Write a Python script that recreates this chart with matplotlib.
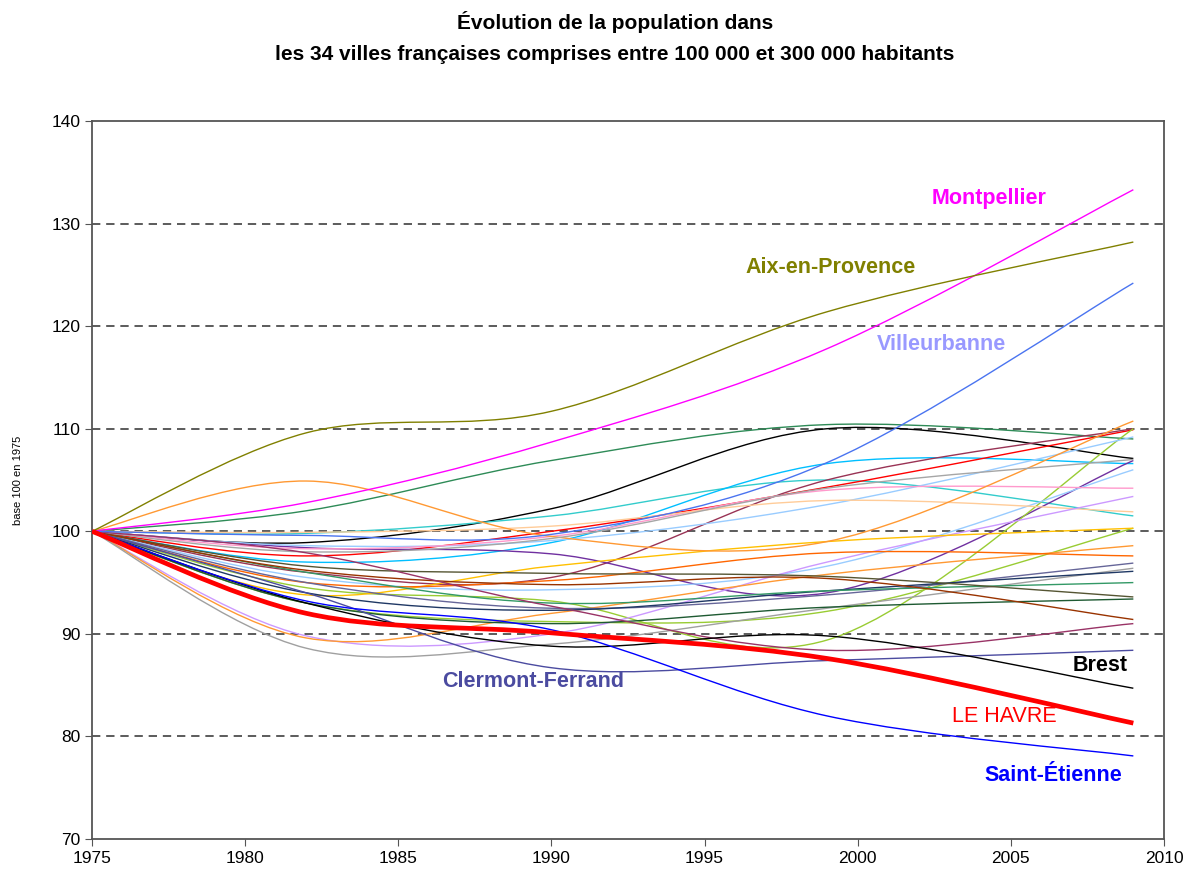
import matplotlib
matplotlib.use("Agg")
import matplotlib.pyplot as plt
from matplotlib.path import Path
from matplotlib.patches import PathPatch

plt.rcParams['font.family'] = ['Liberation Sans', 'DejaVu Sans']

# années de recensement (base 100 en 1975)
annees = [1975, 1982, 1990, 1999, 2009]

# villes nommées sur le graphique
montpellier = [100, 102.8, 108.7, 117.8, 133.3]
aix = [100, 109.6, 111.7, 121.4, 128.2]
villeurbanne = [100, 99.6, 99.7, 106.7, 124.2]
clermont = [100, 94.0, 86.7, 87.4, 88.4]
brest = [100, 93.0, 88.8, 89.8, 84.7]
le_havre = [100, 92.0, 90.1, 87.6, 81.3]
saint_etienne = [100, 93.2, 90.4, 82.0, 78.1]

# les autres villes (non nommées)
autres_couleurs = [
    '#2E8B57', '#000000', '#33CCCC', '#00BFFF', '#FF0000', '#993355',
    '#7030A0', '#99CC33', '#99CC33', '#99CCFF', '#99CCFF', '#FF99CC',
    '#FFCC99', '#CC99FF', '#FFC000', '#FF9933', '#FF9933', '#FF6600',
    '#666699', '#A0A0A0', '#1F3864', '#339966', '#555533', '#1E5A32',
    '#A6A6A6', '#993300', '#993366',
]
autres_valeurs = [
    [100, 102.0, 106.9, 110.4, 109.0],
    [100, 98.9, 102.2, 110.0, 107.1],
    [100, 99.8, 101.5, 105.0, 101.5],
    [100, 97.0, 98.9, 106.6, 106.6],
    [100, 97.6, 100.0, 104.3, 109.9],
    [100, 96.0, 95.5, 105.0, 110.0],
    [100, 98.4, 97.8, 94.0, 106.9],
    [100, 94.5, 93.2, 89.4, 110.0],
    [100, 93.0, 91.2, 92.2, 100.3],
    [100, 98.6, 99.1, 102.6, 109.2],
    [100, 95.5, 94.3, 96.6, 106.0],
    [100, 98.3, 99.5, 104.0, 104.2],
    [100, 99.9, 100.5, 103.0, 101.9],
    [100, 89.8, 90.0, 97.0, 103.4],
    [100, 93.8, 96.6, 99.0, 100.3],
    [100, 104.9, 99.5, 99.0, 110.75],
    [100, 89.6, 92.0, 95.8, 98.6],
    [100, 95.0, 95.2, 97.9, 97.6],
    [100, 95.0, 92.5, 93.8, 96.9],
    [100, 88.6, 89.0, 92.5, 96.4],
    [100, 94.0, 92.3, 94.2, 96.1],
    [100, 96.0, 93.0, 94.2, 95.0],
    [100, 96.6, 95.9, 95.6, 93.6],
    [100, 93.0, 91.0, 92.6, 93.4],
    [100, 98.0, 99.3, 104.2, 107.0],
    [100, 96.2, 94.8, 95.4, 91.4],
    [100, 97.9, 92.7, 88.4, 91.0],
]


def courbe_lissee(ax, x, y, color, lw, z=2):
    # lissage type Excel : courbes de Bézier à partir des points
    pts = list(zip(x, y))
    n = len(pts)
    verts = [pts[0]]
    codes = [Path.MOVETO]
    for i in range(n - 1):
        p0 = pts[i - 1] if i > 0 else pts[i]
        p1 = pts[i]
        p2 = pts[i + 1]
        p3 = pts[i + 2] if i + 2 < n else pts[i + 1]
        c1 = (p1[0] + (p2[0] - p0[0]) / 6, p1[1] + (p2[1] - p0[1]) / 6)
        c2 = (p2[0] - (p3[0] - p1[0]) / 6, p2[1] - (p3[1] - p1[1]) / 6)
        verts += [c1, c2, p2]
        codes += [Path.CURVE4] * 3
    ax.add_patch(PathPatch(Path(verts, codes), facecolor='none',
                           edgecolor=color, lw=lw, zorder=z))


fig = plt.figure(figsize=(11.87, 8.76), dpi=100)
ax = fig.add_axes([0.0775, 0.0422, 0.9031, 0.8197])

for couleur, valeurs in zip(autres_couleurs, autres_valeurs):
    courbe_lissee(ax, annees, valeurs, couleur, 1.0)

courbe_lissee(ax, annees, montpellier, '#FF00FF', 1.0, 3)
courbe_lissee(ax, annees, aix, '#808000', 1.0, 3)
courbe_lissee(ax, annees, villeurbanne, '#4A74F0', 1.0, 3)
courbe_lissee(ax, annees, clermont, '#4B4BA0', 1.0, 3)
courbe_lissee(ax, annees, brest, '#000000', 1.0, 3)
courbe_lissee(ax, annees, saint_etienne, '#0000FF', 1.0, 3)
courbe_lissee(ax, annees, le_havre, '#FF0000', 3.4, 4)

ax.set_xlim(1975, 2010)
ax.set_ylim(70, 140)
ax.set_xticks(range(1975, 2011, 5))
ax.set_yticks(range(70, 141, 10))
ax.tick_params(labelsize=12.5, direction='out', length=5, color='#555555')
for y in range(80, 140, 10):
    ax.axhline(y, color='#404040', lw=1.2, ls=(0, (5, 3.5)), zorder=1)
for s in ax.spines.values():
    s.set_color('#555555')
    s.set_linewidth(1.3)

ax.set_ylabel('base 100 en 1975', fontsize=8, labelpad=20)

fig.text(0.518, 1 - 22 / 876, 'Évolution de la population dans',
         ha='center', va='center', fontsize=15, fontweight='bold')
fig.text(0.518, 1 - 55 / 876,
         'les 34 villes françaises comprises entre 100 000 et 300 000 habitants',
         ha='center', va='center', fontsize=15, fontweight='bold')

style = dict(fontsize=15.5, fontweight='bold', ha='center', va='center')
ax.text(2004.3, 132.4, 'Montpellier', color='#FF00FF', **style)
ax.text(1999.1, 125.7, 'Aix-en-Provence', color='#808000', **style)
ax.text(2002.75, 118.2, 'Villeurbanne', color='#9999FF', **style)
ax.text(2007.9, 86.9, 'Brest', color='black', **style)
ax.text(1989.4, 85.4, 'Clermont-Ferrand', color='#4B4BA0', **style)
ax.text(2006.4, 76.2, 'Saint-Étienne', color='#0000FF', **style)
ax.text(2004.8, 81.9, 'LE HAVRE', color='#FF0000', fontsize=15.5,
        ha='center', va='center')

fig.savefig('out.png', dpi=100)
